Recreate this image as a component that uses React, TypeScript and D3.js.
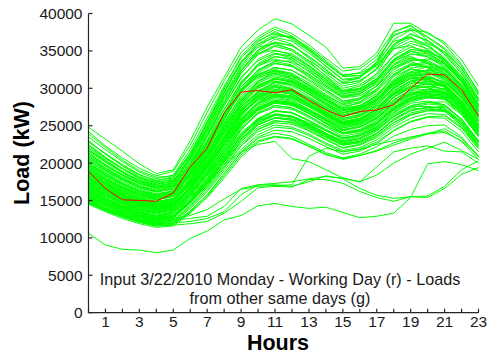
import React from "react";
import * as d3 from "d3";

const HOURS = [0, 1, 2, 3, 4, 5, 6, 7, 8, 9, 10, 11, 12, 13, 14, 15, 16, 17, 18, 19, 20, 21, 22, 23];
const X_TICKS = HOURS;
const X_TICK_LABELS = [1, 3, 5, 7, 9, 11, 13, 15, 17, 19, 21, 23];
const Y_TICKS = [0, 5000, 10000, 15000, 20000, 25000, 30000, 35000, 40000];

const INPUT_DAY = [18900, 16600, 15100, 15000, 14900, 16000, 19500, 22000, 26700, 29500, 29700, 29400, 29800, 28400, 27100, 26200, 26900, 27100, 27800, 30000, 31900, 31800, 29800, 26300];

const HIGH_DAYS = [
  [24800, 23200, 21600, 19900, 18600, 19100, 23000, 27500, 31500, 35500, 37800, 39300, 38600, 37100, 35500, 32700, 32900, 34700, 38700, 38700, 37300, 36200, 33800, 30300],
  [24200, 22300, 20700, 19300, 18300, 18900, 22400, 26800, 31000, 34800, 36900, 38200, 37300, 35800, 34000, 32300, 32600, 34300, 37600, 38300, 36900, 35400, 33000, 29600],
  [23500, 21800, 20200, 18800, 17900, 18400, 21800, 26000, 30300, 34000, 36400, 37400, 36800, 35500, 33700, 31800, 32000, 33200, 36500, 37800, 37500, 35900, 33200, 29400],
  [22800, 21300, 19800, 18500, 17600, 18200, 21400, 25400, 29600, 33300, 35900, 36800, 36300, 34700, 33000, 31200, 31500, 33000, 35900, 37300, 36300, 34500, 32000, 28600],
  [23000, 21200, 19600, 18200, 17500, 17700, 20500, 24800, 29300, 33500, 36200, 37600, 36500, 35000, 32900, 31100, 31300, 33600, 37200, 37800, 36000, 34900, 32700, 29100],
  [22200, 20600, 19200, 17900, 17200, 17600, 20900, 24900, 29000, 32800, 35100, 36200, 35700, 34300, 32600, 30600, 31000, 32500, 35200, 36300, 35700, 34100, 31600, 28200],
  [21600, 20100, 18700, 17500, 16900, 17400, 20500, 24300, 28200, 32000, 34500, 35600, 35000, 33400, 31700, 30000, 30500, 31900, 34400, 36000, 35300, 33500, 31100, 27700],
  [22500, 20800, 19300, 18000, 17400, 17900, 21300, 25600, 29900, 33600, 35500, 36000, 35200, 33700, 32200, 30800, 31400, 33500, 36300, 36800, 35100, 33700, 31300, 27900],
  [21000, 19600, 18300, 17200, 16600, 17100, 20000, 23800, 27700, 31300, 33900, 35000, 34600, 33100, 31400, 29700, 30300, 31600, 34300, 35500, 35000, 33900, 31600, 28300],
  [21800, 20300, 18900, 17700, 17000, 17300, 20200, 24200, 28500, 32400, 34700, 35100, 34400, 33000, 31200, 29500, 29800, 31200, 33800, 35000, 34200, 33000, 30500, 27300],
  [20600, 19200, 17900, 16900, 16300, 16900, 19800, 23500, 27200, 30700, 33300, 34600, 34100, 32500, 30900, 29300, 29600, 31100, 33600, 34600, 34400, 33200, 30900, 27600],
  [22000, 20400, 18900, 17600, 16900, 17200, 19900, 23900, 28000, 32000, 34600, 35800, 35200, 33600, 31600, 29700, 30000, 32000, 35500, 36700, 35900, 33800, 31000, 27500],
];

const MIDHIGH_DAYS = [
  [20300, 18900, 17700, 16700, 16100, 16600, 19400, 23000, 26700, 30200, 32400, 33400, 32900, 31600, 30100, 28700, 29000, 30300, 32500, 33800, 33700, 32600, 30400, 27100],
  [19800, 18400, 17200, 16300, 15700, 16300, 19100, 22500, 26000, 29400, 31900, 32800, 32400, 31000, 29500, 28100, 28500, 29700, 31900, 33200, 33500, 32500, 30100, 26800],
  [20900, 19400, 18100, 17000, 16400, 16800, 19300, 22800, 26500, 29900, 31800, 32300, 31600, 30500, 29000, 27900, 28500, 30400, 33100, 34100, 33300, 31800, 29600, 26400],
  [19400, 18000, 16800, 15900, 15400, 15900, 18700, 22000, 25500, 28800, 31000, 32100, 31700, 30400, 28900, 27600, 28000, 29300, 31200, 32700, 33000, 32100, 29800, 26500],
  [19000, 17700, 16600, 15700, 15200, 15800, 18500, 21700, 25100, 28300, 30400, 31300, 31000, 29800, 28500, 27300, 27700, 28800, 30900, 32100, 32400, 31900, 29500, 26200],
  [20000, 18600, 17300, 16300, 15800, 16100, 18600, 21900, 25800, 29600, 32100, 33300, 33000, 31800, 30300, 28800, 29200, 30800, 33300, 34300, 33300, 32000, 29800, 26600],
  [18700, 17400, 16300, 15500, 15100, 15600, 18300, 21400, 24800, 28000, 30200, 31500, 31100, 29900, 28400, 27000, 27400, 28600, 30600, 31700, 32000, 31400, 29200, 25900],
  [19500, 18100, 16900, 16000, 15500, 15800, 18200, 21300, 25100, 28600, 30900, 31900, 31500, 30100, 28600, 27100, 27500, 28900, 31700, 33100, 32800, 31400, 29100, 25900],
  [18400, 17100, 16000, 15200, 14800, 15300, 17800, 21000, 24600, 27800, 30000, 31000, 30500, 29200, 27700, 26400, 26800, 28000, 30100, 31300, 31500, 30800, 28700, 25500],
  [20600, 19100, 17800, 16700, 16200, 16500, 19000, 22400, 26300, 29800, 31500, 32000, 31300, 30000, 28500, 27400, 28100, 29900, 32600, 33600, 32700, 31200, 28900, 25700],
  [18000, 16800, 15800, 15000, 14600, 15100, 17700, 20800, 24300, 27500, 29500, 30400, 29900, 28600, 27200, 26000, 26500, 27800, 30100, 31300, 31200, 30300, 28200, 25100],
  [19200, 17800, 16700, 15800, 15300, 15700, 18400, 21600, 25300, 29100, 31300, 32400, 31900, 30400, 28800, 27300, 27700, 29000, 31000, 32200, 32900, 32600, 30200, 26900],
  [18900, 17600, 16500, 15600, 15100, 15500, 18000, 21200, 24900, 28400, 30700, 31700, 31300, 30000, 28500, 27100, 27600, 29100, 31600, 32600, 32100, 31000, 28800, 25600],
  [21200, 19700, 18400, 17300, 16700, 17000, 19600, 23100, 27100, 30900, 33000, 33900, 33400, 31900, 30300, 28900, 29300, 30600, 32800, 34000, 33500, 32300, 30000, 26800],
];

const MID_DAYS = [
  [18200, 16900, 15800, 14900, 14400, 14800, 17300, 20300, 23700, 26900, 29000, 29900, 29500, 28200, 26800, 25600, 26000, 27200, 29300, 30600, 30900, 30400, 28300, 25100],
  [17600, 16400, 15400, 14600, 14200, 14700, 17200, 20100, 23300, 26400, 28500, 29300, 29000, 27800, 26400, 25100, 25500, 26600, 28500, 29800, 30300, 29900, 27800, 24700],
  [17900, 16600, 15500, 14600, 14100, 14500, 16900, 19900, 23200, 26600, 28800, 29700, 29300, 28000, 26600, 25300, 25700, 26800, 28900, 30200, 30100, 29400, 27400, 24300],
  [17200, 16100, 15100, 14300, 13900, 14400, 16800, 19600, 22800, 25900, 27900, 28800, 28400, 27200, 25900, 24700, 25200, 26400, 28400, 29700, 29900, 29500, 27400, 24300],
  [18500, 17100, 15900, 15000, 14500, 14900, 17400, 20600, 24000, 27300, 29400, 30300, 29700, 28300, 26900, 25800, 26300, 27700, 30000, 31300, 31000, 30200, 28000, 24900],
  [16900, 15800, 14900, 14100, 13700, 14200, 16600, 19300, 22400, 25400, 27400, 28300, 28000, 26900, 25600, 24400, 24900, 26100, 28000, 29200, 29600, 29300, 27300, 24200],
  [17500, 16300, 15200, 14400, 14000, 14300, 16500, 19300, 22600, 25900, 28000, 28900, 28600, 27500, 26200, 25000, 25400, 26500, 28200, 29500, 29300, 28800, 26900, 23900],
  [18100, 16800, 15600, 14700, 14200, 14600, 16900, 19700, 23000, 26100, 28100, 29000, 28700, 27600, 26300, 25300, 25800, 27100, 29400, 30900, 31400, 30900, 28700, 25500],
  [16600, 15500, 14600, 13800, 13400, 13900, 16200, 18900, 22000, 25100, 27100, 28000, 27700, 26600, 25300, 24100, 24500, 25700, 27500, 28800, 29200, 28900, 26900, 23800],
  [17800, 16500, 15400, 14500, 14000, 14400, 16800, 19800, 23300, 26800, 29100, 30100, 29600, 28200, 26700, 25400, 25900, 27300, 29700, 31000, 30600, 29800, 27600, 24500],
  [17000, 15900, 14900, 14100, 13700, 14100, 16400, 19200, 22300, 25300, 27300, 28300, 27900, 26700, 25400, 24300, 24800, 26000, 28000, 29400, 29800, 29600, 27600, 24500],
  [18300, 17000, 15800, 14800, 14300, 14600, 16700, 19500, 22900, 26300, 28600, 29600, 29200, 27900, 26500, 25300, 25800, 27200, 29600, 31000, 31200, 30500, 28300, 25100],
  [16800, 15700, 14700, 13900, 13500, 13900, 16100, 18800, 22000, 25200, 27200, 28100, 27800, 26700, 25300, 24000, 24400, 25500, 27400, 28700, 29300, 29100, 27100, 24000],
  [17300, 16200, 15200, 14400, 13900, 14300, 16700, 19500, 22500, 25600, 27500, 28400, 28100, 27000, 25700, 24500, 24900, 26000, 27900, 29100, 29600, 29500, 27700, 24700],
  [18700, 17300, 16100, 15100, 14600, 15100, 17700, 20900, 24300, 27600, 29600, 30600, 30000, 28600, 27100, 25800, 26200, 27500, 29400, 30600, 30700, 30200, 28000, 24900],
  [16300, 15300, 14400, 13700, 13300, 13700, 15900, 18500, 21600, 24700, 26700, 27700, 27400, 26300, 25000, 23900, 24300, 25400, 27200, 28500, 28900, 28700, 26800, 23700],
];

const LOWMID_DAYS = [
  [16000, 14900, 14000, 13200, 12800, 13200, 15300, 17900, 20800, 23700, 25700, 26600, 26300, 25300, 24000, 22900, 23300, 24400, 26200, 27400, 27900, 27700, 25900, 22900],
  [15500, 14500, 13600, 12900, 12500, 12900, 15000, 17500, 20400, 23200, 25100, 26000, 25700, 24700, 23500, 22400, 22800, 23900, 25700, 27000, 27500, 27400, 25600, 22700],
  [16300, 15200, 14200, 13400, 13000, 13300, 15400, 18000, 21000, 24000, 26000, 27000, 26700, 25600, 24300, 23200, 23600, 24700, 26500, 27700, 28100, 27800, 25900, 22900],
  [15200, 14200, 13300, 12600, 12200, 12600, 14600, 17000, 19800, 22600, 24500, 25400, 25200, 24300, 23100, 22000, 22400, 23400, 25100, 26400, 27000, 26900, 25100, 22300],
  [15800, 14700, 13800, 13000, 12600, 12900, 14900, 17400, 20300, 23300, 25400, 26400, 26100, 25000, 23800, 22700, 23100, 24300, 26200, 27500, 27600, 27200, 25300, 22400],
  [14900, 13900, 13000, 12300, 11900, 12300, 14300, 16700, 19500, 22300, 24200, 25100, 24800, 23900, 22700, 21700, 22100, 23100, 24800, 26000, 26600, 26500, 24800, 22000],
  [16100, 15000, 14000, 13200, 12700, 13000, 15000, 17600, 20600, 23600, 25600, 26500, 26200, 25100, 23900, 22800, 23300, 24600, 26700, 28000, 28300, 27800, 25800, 22800],
  [15400, 14400, 13500, 12800, 12400, 12800, 14900, 17300, 20100, 22900, 24800, 25700, 25400, 24400, 23200, 22100, 22500, 23600, 25400, 26700, 27200, 27100, 25300, 22500],
  [14700, 13700, 12900, 12200, 11800, 12100, 13900, 16200, 19000, 21800, 23800, 24800, 24600, 23700, 22500, 21500, 21900, 22800, 24400, 25600, 26200, 26300, 24700, 21900],
  [15600, 14600, 13700, 12900, 12400, 12700, 14700, 17200, 20200, 23200, 25200, 26100, 25800, 24800, 23600, 22500, 22900, 24000, 25900, 27200, 27400, 27000, 25000, 22200],
  [16500, 15300, 14300, 13500, 13000, 13400, 15600, 18300, 21400, 24500, 26600, 27500, 27200, 26100, 24800, 23600, 24000, 25200, 27100, 28400, 28800, 28500, 26500, 23500],
  [14600, 13600, 12800, 12100, 11700, 12000, 13600, 15800, 18600, 21500, 23500, 24400, 24200, 23300, 22200, 21200, 21600, 22600, 24300, 25500, 26100, 26000, 24300, 21500],
];

const LOW_DAYS = [
  [14500, 13500, 12600, 11900, 11400, 11600, 13300, 15500, 18300, 21100, 23000, 23600, 23300, 22300, 21200, 20500, 21000, 21700, 22700, 23400, 24000, 24300, 22900, 20500],
  [14800, 13800, 12900, 12100, 11600, 11800, 13500, 15700, 18600, 21400, 23300, 24000, 23600, 22500, 21400, 20700, 21200, 22200, 23600, 24500, 25000, 25100, 23500, 20900],
  [15100, 14000, 13100, 12300, 11800, 11900, 13400, 15400, 18000, 20800, 22800, 23500, 23200, 22200, 21100, 20600, 21000, 21600, 22400, 23200, 23900, 24600, 23300, 20800],
];

const VARIED_DAYS = [
  [23900, 22100, 20400, 19000, 18100, 18300, 21000, 25300, 30100, 34300, 36600, 37900, 37000, 35200, 33300, 31600, 31700, 33300, 37500, 38500, 36400, 34800, 32300, 28700],
  [21300, 19800, 18500, 17400, 16800, 17000, 19500, 23600, 28000, 32300, 35100, 36600, 35900, 34000, 32000, 30300, 30800, 32700, 35900, 36900, 35600, 33900, 31300, 27800],
  [20100, 18700, 17500, 16500, 15900, 16300, 19000, 22600, 26600, 30500, 33000, 34200, 34000, 32700, 30900, 29500, 29900, 31300, 33800, 35200, 34800, 33300, 30800, 27400],
  [22400, 20700, 19300, 18100, 17300, 17500, 20600, 24600, 28900, 33000, 35600, 37000, 36900, 35300, 33500, 31600, 31700, 33100, 35300, 35700, 34600, 33400, 31400, 28500],
  [19600, 18300, 17100, 16200, 15600, 16000, 18400, 21800, 25800, 29700, 32300, 33700, 33600, 32300, 30700, 29200, 29600, 30900, 32800, 33700, 33900, 33400, 31000, 27700],
  [17400, 16200, 15200, 14400, 13900, 14200, 16400, 19300, 22900, 26700, 29400, 30900, 30700, 29300, 27800, 26500, 26900, 28300, 30900, 32200, 31800, 30700, 28400, 25200],
  [16700, 15600, 14600, 13800, 13400, 13800, 15800, 18600, 21900, 25500, 28100, 29600, 29500, 28300, 26800, 25500, 25900, 27100, 29200, 30300, 30500, 30300, 28300, 25300],
  [18800, 17500, 16400, 15400, 14900, 15200, 17500, 20600, 24200, 28100, 30900, 32300, 31900, 30300, 28600, 27100, 27400, 28600, 30400, 31800, 32500, 32400, 30200, 26900],
  [15900, 14800, 13900, 13100, 12700, 13000, 15100, 17800, 21000, 24400, 26900, 28100, 27900, 26700, 25300, 24000, 24300, 25400, 27300, 28600, 29100, 29200, 27400, 24400],
  [17700, 16500, 15400, 14500, 14100, 14500, 16900, 19900, 23500, 27200, 29700, 30800, 30300, 28900, 27500, 26300, 26700, 28000, 30500, 31900, 31600, 30600, 28200, 25000],
  [19900, 18500, 17300, 16300, 15800, 16200, 18800, 22200, 26100, 29900, 32500, 33600, 33100, 31500, 29800, 28300, 28700, 30300, 33100, 34600, 34200, 32800, 30300, 26900],
  [16200, 15100, 14200, 13400, 13000, 13500, 15700, 18400, 21600, 24900, 27100, 28300, 28100, 27000, 25700, 24500, 24800, 25900, 27700, 29000, 29500, 29500, 27700, 24700],
  [15300, 14300, 13400, 12700, 12300, 12700, 14800, 17400, 20500, 23600, 25800, 26900, 26700, 25700, 24500, 23400, 23700, 24800, 26800, 28200, 28700, 28600, 26700, 23700],
  [17100, 16000, 15000, 14200, 13800, 14200, 16500, 19400, 22900, 26400, 28700, 29600, 29200, 27900, 26500, 25300, 25700, 26900, 29200, 30700, 30900, 30400, 28200, 25200],
  [18600, 17300, 16200, 15300, 14800, 15200, 17600, 20700, 24000, 27000, 28900, 29800, 29700, 28700, 27400, 26300, 26800, 28200, 30400, 31500, 31300, 30300, 28000, 24800],
  [16400, 15300, 14400, 13600, 13200, 13600, 15800, 18300, 21100, 23900, 25700, 26400, 26300, 25400, 24300, 23300, 23800, 25100, 27400, 28800, 29400, 29300, 27500, 24500],
  [15700, 14700, 13800, 13000, 12600, 13000, 15100, 17600, 20600, 23700, 25900, 27000, 26800, 25700, 24400, 23300, 23700, 24900, 27000, 28400, 28900, 28800, 26900, 23900],
  [20800, 19300, 18000, 16900, 16300, 16600, 19000, 22500, 26300, 29700, 31800, 32700, 32400, 31200, 29700, 28300, 28600, 29900, 32200, 33300, 32900, 31700, 29400, 26200],
  [19300, 17900, 16700, 15800, 15200, 15600, 17900, 21200, 24900, 28400, 30500, 31300, 30900, 29700, 28300, 27000, 27300, 28400, 30300, 31500, 31900, 31600, 29400, 26200],
  [17700, 16500, 15500, 14700, 14300, 14800, 17200, 20200, 23700, 27000, 29200, 30200, 29900, 28700, 27300, 26000, 26400, 27700, 29900, 31300, 31200, 30100, 27800, 24600],
  [21400, 19800, 18400, 17300, 16600, 16900, 19800, 23600, 27700, 31500, 33700, 34700, 34300, 32900, 31100, 29600, 29900, 31300, 33900, 35200, 34900, 33700, 31300, 27900],
  [16900, 15800, 14800, 14000, 13600, 14000, 16200, 19000, 22400, 25800, 28100, 29100, 28800, 27700, 26400, 25200, 25600, 26800, 28800, 30000, 30200, 29900, 27900, 24800],
  [15000, 14000, 13200, 12500, 12100, 12400, 14300, 16800, 19800, 22900, 25100, 26100, 25900, 24900, 23700, 22600, 22900, 24000, 25800, 27000, 27400, 27600, 25900, 23000],
  [18000, 16800, 15700, 14800, 14300, 14600, 16800, 19800, 23400, 27100, 29600, 30800, 30500, 29300, 27900, 26700, 27100, 28400, 30700, 31900, 31400, 30200, 27900, 24800],
  [22900, 21200, 19700, 18400, 17700, 18000, 21100, 25200, 29500, 33500, 35900, 37200, 36700, 35100, 33300, 31700, 32100, 33900, 37000, 38000, 36800, 35200, 32600, 29200],
  [20400, 19000, 17800, 16800, 16200, 16600, 19100, 22700, 26700, 30600, 33200, 34300, 33800, 32200, 30500, 29000, 29400, 31000, 33600, 34900, 34600, 33400, 30900, 27500],
  [17300, 16200, 15200, 14400, 14000, 14400, 16600, 19400, 22500, 25700, 27700, 28600, 28300, 27200, 26000, 24900, 25300, 26500, 28800, 30200, 30600, 30300, 28300, 25200],
  [16000, 15000, 14100, 13300, 12900, 13300, 15400, 18000, 21200, 24500, 26700, 27700, 27400, 26300, 25000, 23900, 24200, 25300, 27200, 28400, 29000, 29000, 27200, 24200],
  [19100, 17800, 16700, 15800, 15300, 15600, 17900, 21000, 24500, 28000, 30300, 31300, 30800, 29500, 28000, 26700, 27100, 28500, 31000, 32500, 32300, 31200, 28900, 25700],
  [18400, 17200, 16100, 15200, 14700, 15100, 17400, 20500, 24100, 27700, 30100, 31200, 30900, 29600, 28100, 26800, 27200, 28500, 30800, 32100, 32200, 31600, 29300, 26100],
  [15500, 14500, 13600, 12900, 12500, 12800, 14700, 17200, 20200, 23300, 25400, 26400, 26200, 25200, 24000, 23000, 23400, 24500, 26300, 27600, 28100, 28200, 26500, 23600],
  [21700, 20200, 18800, 17700, 17100, 17600, 20700, 24600, 28800, 32500, 34900, 36100, 35700, 34200, 32400, 30700, 31000, 32600, 35700, 37200, 36400, 34600, 32000, 28400],
  [14900, 13900, 13100, 12400, 12000, 12300, 14100, 16400, 19300, 22300, 24500, 25600, 25500, 24600, 23400, 22400, 22700, 23700, 25400, 26500, 27000, 27200, 25500, 22700],
  [19700, 18300, 17100, 16100, 15600, 16100, 18700, 22100, 25900, 29500, 31600, 32500, 32000, 30700, 29200, 27800, 28200, 29600, 31800, 33000, 33300, 32700, 30400, 27100],
  [17900, 16700, 15700, 14800, 14400, 14900, 17100, 20000, 23300, 26500, 28400, 29200, 28900, 27900, 26600, 25500, 25900, 27200, 29100, 30300, 30100, 29400, 27200, 24200],
  [16600, 15500, 14600, 13800, 13400, 13800, 16000, 18700, 21900, 25100, 27300, 28300, 28100, 27100, 25800, 24700, 25100, 26200, 28100, 29300, 29800, 29800, 27900, 24900],
];

const ODD_DAYS = [
  [10600, 9050, 8470, 8380, 8020, 8380, 9940, 10920, 12400, 13000, 14300, 14600, 14200, 13950, 14100, 13400, 12700, 12900, 13300, 15400, 19900, 20200, 19800, 19000],
  [15000, 13900, 13000, 12300, 11900, 12000, 12200, 12600, 13500, 15800, 17100, 17100, 16900, 17500, 18300, 17900, 16600, 15700, 15300, 15500, 15600, 16900, 19100, 20300],
  [14700, 13700, 12800, 12100, 11600, 11700, 11900, 12200, 13300, 14900, 16700, 16900, 16800, 17800, 17800, 17300, 16200, 15400, 14900, 15500, 15400, 16600, 18500, 19400],
  [15300, 14200, 13300, 12500, 12100, 12300, 12600, 12900, 14200, 16600, 17100, 17300, 17500, 17900, 18200, 18000, 17500, 19500, 21500, 22000, 22300, 21600, 21500, 20000],
  [15600, 14500, 13600, 12800, 12300, 12500, 13000, 13800, 15200, 16500, 16900, 17000, 17100, 20900, 22000, 21500, 21800, 22500, 23000, 23500, 23900, 24100, 23000, 21000],
  [16200, 15100, 14100, 13300, 12800, 13000, 14800, 17200, 19800, 21500, 22500, 22900, 20600, 20200, 19100, 18000, 17500, 18400, 20000, 21200, 22000, 22800, 21700, 20500],
];

const OTHER_DAYS = [...HIGH_DAYS, ...MIDHIGH_DAYS, ...MID_DAYS, ...LOWMID_DAYS, ...LOW_DAYS, ...VARIED_DAYS, ...ODD_DAYS];

const W = 487;
const H = 354;
const FONT = "'Liberation Sans', Arial, Helvetica, sans-serif";

export default function App() {
  const x = d3.scaleLinear().domain([0, 23]).range([88.5, 478.5]);
  const y = d3.scaleLinear().domain([0, 40000]).range([312.7, 13.5]);
  const line = d3
    .line<number>()
    .x((_, i) => x(HOURS[i]))
    .y((d) => y(d));

  const axisColor = "#262626";

  return (
    <svg
      width={W}
      height={H}
      style={{ position: "fixed", left: 0, top: 0, background: "#fff" }}
      fontFamily={FONT}
    >
      <rect x={0} y={0} width={W} height={H} fill="#fff" />
      <g fill="none" stroke="#00ff00" strokeWidth={1}>
        {OTHER_DAYS.map((d, i) => (
          <path key={i} d={line(d) || ""} />
        ))}
      </g>
      <path d={line(INPUT_DAY) || ""} fill="none" stroke="#ff0000" strokeWidth={1} />

      <g stroke={axisColor} strokeWidth={1.2}>
        <line x1={x(0)} x2={x(0)} y1={y(40000)} y2={y(0)} />
        <line x1={x(0)} x2={x(23)} y1={y(0)} y2={y(0)} />
        {Y_TICKS.map((t) => (
          <line key={"yt" + t} x1={x(0)} x2={x(0) + 4} y1={y(t)} y2={y(t)} />
        ))}
        {X_TICKS.map((t) => (
          <line key={"xt" + t} x1={x(t)} x2={x(t)} y1={y(0)} y2={y(0) - 4} />
        ))}
      </g>
      <g fill="#1a1a1a" fontSize={15.5}>
        {Y_TICKS.map((t) => (
          <text key={"yl" + t} x={x(0) - 6} y={y(t)} dy="0.36em" textAnchor="end">
            {t}
          </text>
        ))}
        {X_TICK_LABELS.map((t) => (
          <text key={"xl" + t} x={x(t)} y={327} textAnchor="middle">
            {t}
          </text>
        ))}
      </g>
      <text x={278} y={349.5} textAnchor="middle" fontWeight="bold" fontSize={21.5} fill="#000">
        Hours
      </text>
      <text
        transform="translate(29,153) rotate(-90)"
        textAnchor="middle"
        fontWeight="bold"
        fontSize={21.5}
        fill="#000"
      >
        Load (kW)
      </text>
      <g fill="#1a1a1a" fontSize={16.2} textAnchor="middle">
        <text x={280} y={284.7}>Input 3/22/2010 Monday - Working Day (r) - Loads</text>
        <text x={280} y={304}>from other same days (g)</text>
      </g>
    </svg>
  );
}
